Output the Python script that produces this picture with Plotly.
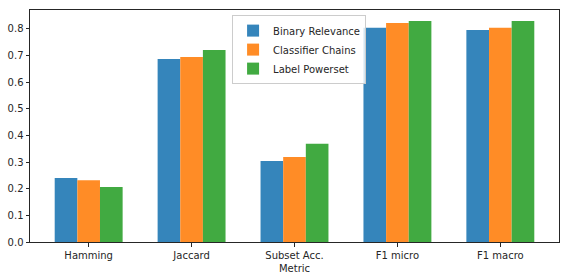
import plotly.graph_objects as go

metrics = ["Hamming", "Jaccard", "Subset Acc.", "F1 micro", "F1 macro"]
binary_relevance = [0.240, 0.686, 0.304, 0.803, 0.795]
classifier_chains = [0.232, 0.694, 0.319, 0.821, 0.803]
label_powerset = [0.206, 0.720, 0.368, 0.829, 0.829]
series_names = ["Binary Relevance", "Classifier Chains", "Label Powerset"]
colors = ["#3585bb", "#ff8c26", "#41aa41"]
y_ticks = [0.0, 0.1, 0.2, 0.3, 0.4, 0.5, 0.6, 0.7, 0.8]

x_idx = list(range(len(metrics)))
fig = go.Figure()
for name, vals, c in zip(series_names, [binary_relevance, classifier_chains, label_powerset], colors):
    fig.add_trace(go.Bar(x=x_idx, y=vals, name=name, marker=dict(color=c, line=dict(width=0))))

font = dict(family="DejaVu Sans", size=10, color="#262626")
fig.update_layout(
    width=568, height=280,
    margin=dict(l=30, r=9, t=10, b=38, autoexpand=False),
    paper_bgcolor="white", plot_bgcolor="white",
    barmode="group", bargap=0.34, bargroupgap=0,
    font=font,
    showlegend=True,
    legend=dict(x=0.382, y=0.978, xanchor="left", yanchor="top",
                bordercolor="#cccccc", borderwidth=1, bgcolor="rgba(255,255,255,0.8)",
                font=dict(family="DejaVu Sans", size=10, color="#262626"),
                tracegroupgap=0, itemwidth=30),
    xaxis=dict(range=[-0.57, 4.57], tickmode="array", tickvals=x_idx, ticktext=metrics,
               showgrid=False, zeroline=False, showline=True, linecolor="#262626", linewidth=1,
               mirror=True, ticks="outside", ticklen=3.5, tickcolor="#262626", automargin=False,
               title=dict(text="Metric", standoff=5, font=font)),
    yaxis=dict(range=[0, 0.87], tickmode="array", tickvals=y_ticks,
               ticktext=[f"{v:.1f}" for v in y_ticks], automargin=False,
               showgrid=False, zeroline=False, showline=True, linecolor="#262626", linewidth=1,
               mirror=True, ticks="outside", ticklen=3.5, tickcolor="#262626"),
)
fig.write_html("out.html", config={"displayModeBar": False},
               post_script="document.body.style.margin='0';document.body.style.overflow='hidden';")
